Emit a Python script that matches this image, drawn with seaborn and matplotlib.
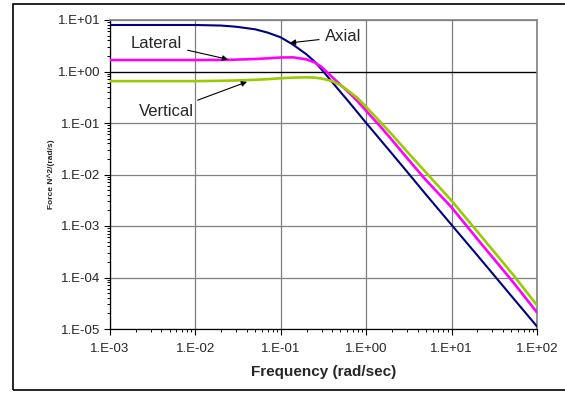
import numpy as np
import pandas as pd
import matplotlib.pyplot as plt
import matplotlib.ticker as mticker
from matplotlib.patches import Rectangle
import seaborn as sns

# frequency points (rad/sec)
freq = [0.001, 0.01, 0.02, 0.03, 0.05, 0.07, 0.1, 0.14, 0.2, 0.25, 0.3, 0.4,
        0.5, 0.6, 0.8, 1, 1.5, 2, 3, 5, 10, 20, 50, 100]

axial = [8.0, 8.0, 7.8, 7.4, 6.6, 5.7, 4.6, 3.3, 2.15, 1.55, 1.1, 0.62,
         0.4, 0.28, 0.157, 0.1, 0.045, 0.0255, 0.0114, 0.0041, 0.00105,
         0.00027, 0.000044, 0.0000112]
lateral = [1.67, 1.67, 1.68, 1.7, 1.75, 1.8, 1.87, 1.88, 1.72, 1.5, 1.22, 0.78,
           0.55, 0.42, 0.26, 0.172, 0.082, 0.047, 0.021, 0.0078, 0.0023,
           0.00056, 0.00009, 0.000021]
vertical = [0.65, 0.65, 0.66, 0.67, 0.69, 0.71, 0.74, 0.76, 0.77, 0.76, 0.73, 0.65,
            0.54, 0.44, 0.3, 0.205, 0.1, 0.06, 0.028, 0.011, 0.0031,
            0.00078, 0.000125, 0.000029]

series_names = ["Axial", "Lateral", "Vertical"]
series_colors = {"Axial": "#000080", "Lateral": "#FF00FF", "Vertical": "#99CC00"}
series_widths = {"Axial": 1.5, "Lateral": 1.9, "Vertical": 1.9}

df = pd.concat([
    pd.DataFrame({"freq": freq, "force": vals, "series": name})
    for name, vals in zip(series_names, [axial, lateral, vertical])
])

sns.set_theme(style="white")
plt.rcParams['font.family'] = ['Liberation Sans', 'DejaVu Sans']

fig = plt.figure(figsize=(5.65, 3.96), dpi=100)
ax = fig.add_axes([110 / 565, 1 - 329 / 396, (537 - 110) / 565, (329 - 20) / 396])

ax.set_xscale("log")
ax.set_yscale("log")
ax.set_xlim(1e-3, 1e2)
ax.set_ylim(1e-5, 1e1)

# grid
ax.grid(True, which="major", color="#808080", lw=0.9)
ax.axhline(1, color="black", lw=0.9, zorder=1.5)

for name in series_names:
    sns.lineplot(data=df[df["series"] == name], x="freq", y="force",
                 color=series_colors[name], lw=series_widths[name],
                 ax=ax, legend=False, zorder=3)

fmt = mticker.FuncFormatter(lambda v, p: "1.E{:+03d}".format(int(round(np.log10(v)))))
ax.xaxis.set_major_locator(mticker.LogLocator(base=10, numticks=10))
ax.yaxis.set_major_locator(mticker.LogLocator(base=10, numticks=10))
ax.xaxis.set_minor_locator(mticker.LogLocator(base=10, subs=range(2, 10), numticks=20))
ax.yaxis.set_minor_locator(mticker.LogLocator(base=10, subs=range(2, 10), numticks=20))
ax.xaxis.set_major_formatter(fmt)
ax.yaxis.set_major_formatter(fmt)
ax.xaxis.set_minor_formatter(mticker.NullFormatter())
ax.yaxis.set_minor_formatter(mticker.NullFormatter())

ax.tick_params(axis="x", which="major", direction="out", length=4, width=0.8,
               color="black", pad=6, labelsize=9.5)
ax.tick_params(axis="y", which="major", direction="out", length=4, width=0.8,
               color="black", pad=3, labelsize=9.5)
ax.tick_params(which="minor", direction="out", length=2, width=0.7, color="black")
ax.tick_params(bottom=True, left=True, which="both")

for side in ["top", "right"]:
    ax.spines[side].set_color("#808080")
    ax.spines[side].set_linewidth(1.2)
for side in ["left", "bottom"]:
    ax.spines[side].set_color("black")
    ax.spines[side].set_linewidth(0.9)

ax.set_xlabel("Frequency (rad/sec)", fontsize=11, fontweight="bold", labelpad=7)
ax.set_ylabel("Force N^2/(rad/s)", fontsize=6, fontweight="bold", labelpad=2)

arrow = dict(arrowstyle="-|>", color="black", lw=0.8, mutation_scale=8,
             shrinkA=2, shrinkB=0)
ax.annotate("Axial", xy=(0.128, 3.6), xytext=(0.33, 4.7), fontsize=12,
            ha="left", va="center", arrowprops=arrow)
ax.annotate("Lateral", xy=(0.0241, 1.72), xytext=(0.00346, 3.57), fontsize=12,
            ha="center", va="center", arrowprops=arrow)
ax.annotate("Vertical", xy=(0.0402, 0.63), xytext=(0.00453, 0.164), fontsize=12,
            ha="center", va="center", arrowprops=arrow)

# outer chart border (open to the right like the original)
fig.patches.append(Rectangle((13 / 565, 1 - 390 / 396), 1.0, (390 - 4) / 396,
                             transform=fig.transFigure, fill=False,
                             edgecolor="black", lw=1.2))

fig.savefig("out.png", dpi=100)
